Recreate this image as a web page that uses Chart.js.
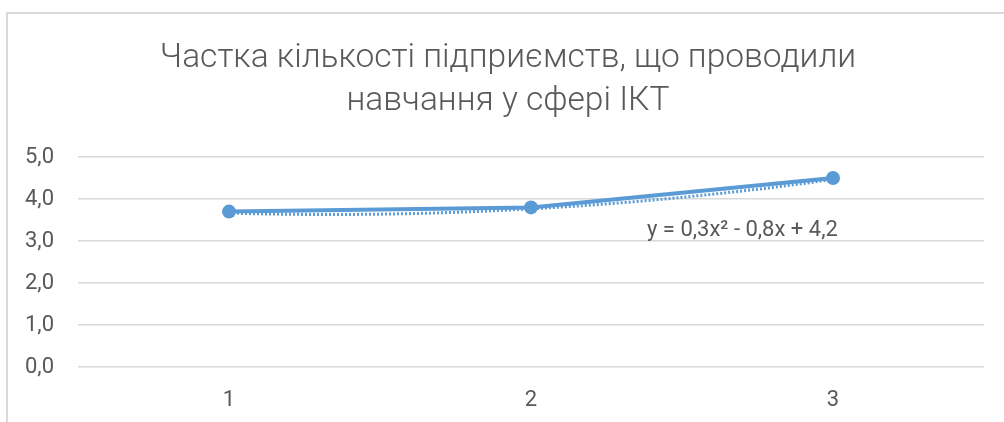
<!DOCTYPE html>
<html lang="uk">
<head>
    <meta charset="UTF-8">
    <title>Частка кількості підприємств, що проводили навчання у сфері ІКТ</title>
    <script src="https://cdn.jsdelivr.net/npm/chart.js"></script>
    <style>
        html, body { margin: 0; padding: 0; background: #fff; overflow: hidden; }
        #wrap { width: 1004px; height: 422px; position: relative; }
    </style>
</head>
<body>
    <div id="wrap"><canvas id="trainingChart"></canvas></div>
    <script>
        const categories = ['1', '2', '3'];
        const shareValues = [3.7, 3.8, 4.5];
        // polynomial trend y = a*x^2 + b*x + c
        const trendCoefficients = [0.3, -0.8, 4.2];
        const trendLabel = 'y = 0,3x² - 0,8x + 4,2';
        const titleLines = ['Частка кількості підприємств, що проводили', 'навчання у сфері ІКТ'];

        const blue = '#5B9BD5';
        const grey = '#595959';
        const fontFamily = 'Roboto, "Open Sans", sans-serif';

        const comma = v => v.toFixed(1).replace('.', ',');

        // outer frame and the two-line heading, centred on the frame
        const framePlugin = {
            id: 'frame',
            beforeDraw(chart) {
                const c = chart.ctx;
                c.save();
                c.fillStyle = '#fff';
                c.fillRect(0, 0, chart.width, chart.height);
                c.strokeStyle = '#d9d9d9';
                c.lineWidth = 2;
                c.strokeRect(7, 13, chart.width + 20, chart.height + 20);
                c.restore();
            },
            afterDraw(chart) {
                const c = chart.ctx;
                c.save();
                c.fillStyle = grey;
                c.font = '300 33.5px ' + fontFamily;
                c.textAlign = 'center';
                c.textBaseline = 'alphabetic';
                titleLines.forEach((line, i) => c.fillText(line, 508, 67 + i * 43));
                c.restore();
            }
        };

        // dotted polynomial trendline plus its equation
        const trendPlugin = {
            id: 'trend',
            beforeDatasetsDraw(chart) {
                const x = chart.scales.x, y = chart.scales.y, c = chart.ctx;
                const [a, b, k] = trendCoefficients;
                c.save();
                c.strokeStyle = blue;
                c.lineWidth = 3;
                c.setLineDash([2, 2]);
                c.beginPath();
                for (let t = 1; t <= categories.length + 1e-9; t += 0.05) {
                    const px = x.getPixelForValue(t - 1);
                    const py = y.getPixelForValue(a * t * t + b * t + k) + 1.5;
                    if (t === 1) c.moveTo(px, py); else c.lineTo(px, py);
                }
                c.stroke();
                c.restore();
            },
            afterDatasetsDraw(chart) {
                const c = chart.ctx;
                c.save();
                c.fillStyle = grey;
                c.font = '22px ' + fontFamily;
                c.textAlign = 'left';
                c.textBaseline = 'middle';
                c.fillText(trendLabel, 647, 230);
                c.restore();
            }
        };

        new Chart(document.getElementById('trainingChart'), {
            type: 'line',
            data: {
                labels: categories,
                datasets: [{
                    data: shareValues,
                    borderColor: blue,
                    backgroundColor: blue,
                    borderWidth: 4,
                    pointRadius: 7,
                    pointHoverRadius: 7,
                    pointBorderWidth: 0,
                    tension: 0
                }]
            },
            options: {
                responsive: true,
                maintainAspectRatio: false,
                animation: false,
                layout: { padding: { left: 0, right: 20, top: 157, bottom: 0 } },
                plugins: {
                    legend: { display: false },
                    tooltip: { enabled: false },
                    title: { display: false }
                },
                scales: {
                    x: {
                        offset: true,
                        grid: { display: false },
                        border: { display: false },
                        ticks: { color: grey, font: { family: fontFamily, size: 22 }, padding: 12 },
                        afterFit(scale) { scale.height = 55; }
                    },
                    y: {
                        min: 0,
                        max: 5,
                        ticks: {
                            stepSize: 1,
                            color: grey,
                            padding: 24,
                            font: { family: fontFamily, size: 22 },
                            callback: v => comma(v)
                        },
                        grid: { color: '#d9d9d9', lineWidth: 1.5, drawTicks: false },
                        border: { display: false },
                        afterFit(scale) { scale.width = 78; }
                    }
                }
            },
            plugins: [framePlugin, trendPlugin]
        });
    </script>
</body>
</html>
